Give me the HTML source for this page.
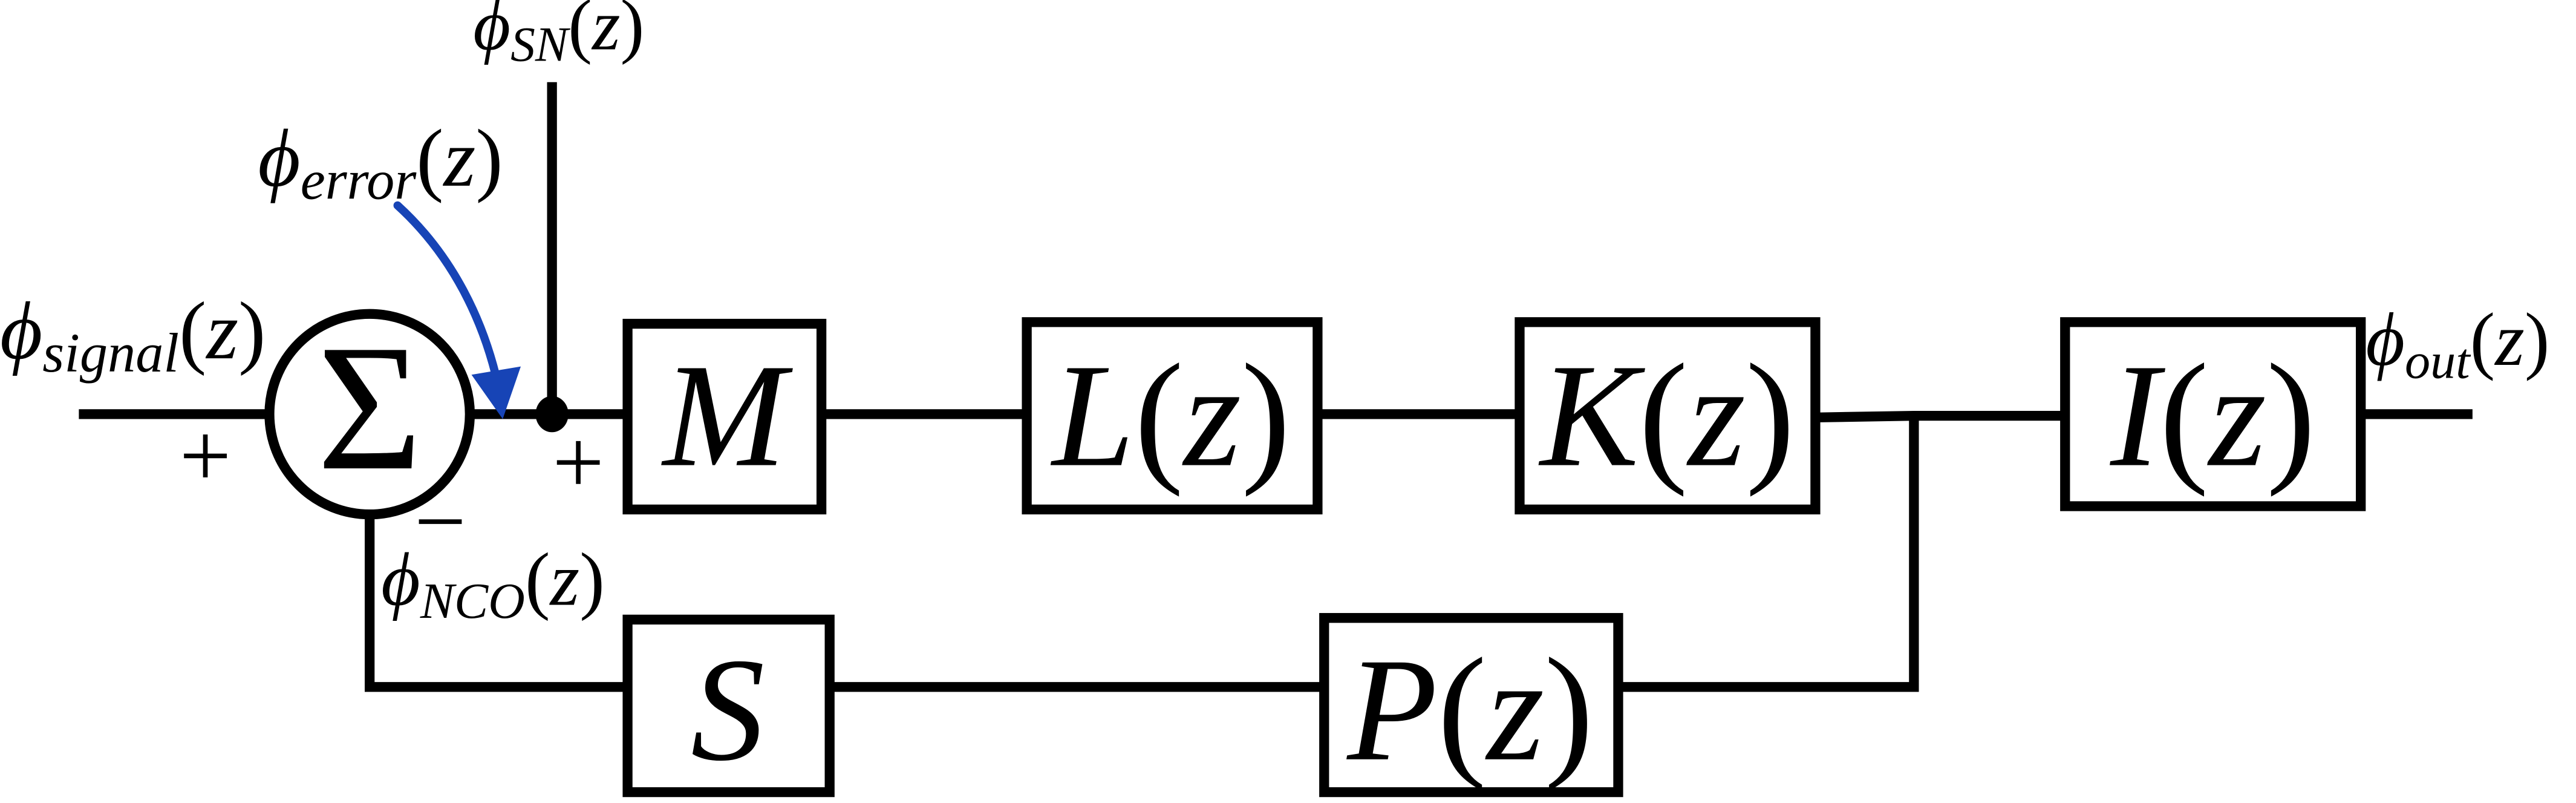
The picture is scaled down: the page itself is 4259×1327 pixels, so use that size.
<!DOCTYPE html>
<html><head><meta charset="utf-8"><style>
html,body{margin:0;padding:0;background:#fff;}
svg{display:block;}
text{font-family:"Liberation Serif","DejaVu Serif",serif;font-style:italic;fill:#000;}
.up{font-style:normal;}
</style></head><body>
<svg width="4259" height="1327" viewBox="0 0 1568 488.6" preserveAspectRatio="none">
<g stroke="#000" stroke-width="6" fill="none">
 <line x1="48" y1="252" x2="163" y2="252"/>
 <circle cx="225" cy="252" r="61"/>
 <line x1="287" y1="252" x2="382" y2="252"/>
 <line x1="336" y1="50" x2="336" y2="252"/>
 <rect x="382" y="197" width="118" height="113"/>
 <line x1="500" y1="252" x2="625" y2="252"/>
 <rect x="625" y="196" width="177" height="114"/>
 <line x1="802" y1="252" x2="925" y2="252"/>
 <rect x="925" y="196" width="180" height="114"/>
 <polyline points="1105,254 1165,253 1257,253"/>
 <rect x="1257" y="196" width="180" height="112"/>
 <line x1="1437" y1="252" x2="1505" y2="252"/>
 <polyline points="1165,253 1165,418 985,418"/>
 <rect x="806" y="376" width="179" height="106"/>
 <line x1="505" y1="418" x2="806" y2="418"/>
 <rect x="382" y="377" width="123" height="105"/>
 <polyline points="382,418 225,418 225,313"/>
</g>
<ellipse cx="336" cy="252" rx="10" ry="11" fill="#000"/>
<path d="M242,125 C275,155 295,195 304,238" stroke="#1744b6" stroke-width="5" fill="none" stroke-linecap="round"/>
<polygon points="287,228 317,223 306,255" fill="#1744b6"/>
<text class="up" x="225" y="285" font-size="110" text-anchor="middle">Σ</text>
<text x="441" y="283" font-size="90" text-anchor="middle">M</text>
<text x="713" y="283" font-size="90" text-anchor="middle">L<tspan class="up">(</tspan>z<tspan class="up">)</tspan></text>
<text x="1015" y="283" font-size="90" text-anchor="middle">K<tspan class="up">(</tspan>z<tspan class="up">)</tspan></text>
<text x="1347" y="283" font-size="90" text-anchor="middle">I<tspan class="up">(</tspan>z<tspan class="up">)</tspan></text>
<text x="443" y="462" font-size="90" text-anchor="middle">S</text>
<text x="895" y="462" font-size="90" text-anchor="middle">P<tspan class="up">(</tspan>z<tspan class="up">)</tspan></text>
<text x="0" y="218" font-size="50">ϕ<tspan font-size="34" dy="8">signal</tspan><tspan class="up" dy="-8">(</tspan>z<tspan class="up">)</tspan></text>
<text x="157" y="113" font-size="50">ϕ<tspan font-size="34" dy="8">error</tspan><tspan class="up" dy="-8">(</tspan>z<tspan class="up">)</tspan></text>
<text x="288" y="30" font-size="44">ϕ<tspan font-size="30" dy="7">SN</tspan><tspan class="up" dy="-7">(</tspan>z<tspan class="up">)</tspan></text>
<text x="232" y="368" font-size="46">ϕ<tspan font-size="31" dy="8">NCO</tspan><tspan class="up" dy="-8">(</tspan>z<tspan class="up">)</tspan></text>
<text x="1440" y="222" font-size="46">ϕ<tspan font-size="31" dy="8">out</tspan><tspan class="up" dy="-8">(</tspan>z<tspan class="up">)</tspan></text>
<text class="up" x="125" y="296" font-size="56" text-anchor="middle">+</text>
<text class="up" x="352" y="300" font-size="56" text-anchor="middle">+</text>
<text class="up" x="268" y="336" font-size="56" text-anchor="middle">−</text>
</svg>
</body></html>
